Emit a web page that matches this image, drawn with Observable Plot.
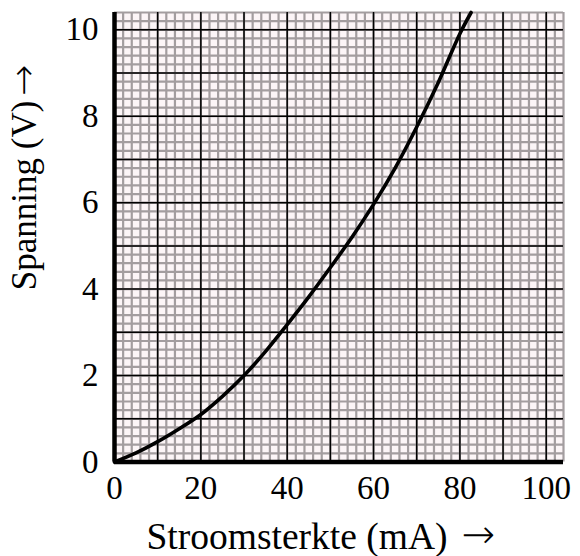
<!DOCTYPE html>
<html>
<head>
<meta charset="utf-8">
<script src="https://cdn.jsdelivr.net/npm/d3@7"></script>
<script src="https://cdn.jsdelivr.net/npm/@observablehq/plot@0.6"></script>
<style>
  html, body { margin: 0; padding: 0; background: #fff; }
  #chart svg { display: block; }
</style>
</head>
<body>
<div id="chart"></div>
<script>
// Data
const current = [0, 5, 10, 15, 20, 25, 30, 35, 40, 45, 50, 55, 60, 65, 70, 75, 80, 82.6];      // mA
const voltage = [0, 0.21, 0.47, 0.77, 1.10, 1.52, 2.0, 2.56, 3.18, 3.82, 4.5, 5.2, 5.96, 6.8, 7.75, 8.78, 9.91, 10.4]; // V
const xTicks = [0, 20, 40, 60, 80, 100];
const yTicks = [0, 2, 4, 6, 8, 10];
const xMajor = [0, 10, 20, 30, 40, 50, 60, 70, 80, 90, 100];
const yMajor = [0, 1, 2, 3, 4, 5, 6, 7, 8, 9, 10];
const xTitle = "Stroomsterkte (mA)";
const yTitle = "Spanning (V)";
const arrow = "→";

const data = current.map((c, i) => ({c, v: voltage[i]}));
const xMinor = d3.range(0, 104.001, 2);
const yMinor = d3.range(0, 10.4001, 0.2).map(d => +d.toFixed(1));

const font = "'Liberation Serif', 'Times New Roman', serif";
const arrowFont = "'DejaVu Sans', sans-serif";

const chart = Plot.plot({
  width: 580,
  height: 556,
  marginLeft: 114,
  marginRight: 17,
  marginTop: 12,
  marginBottom: 94.5,
  style: {fontFamily: font, background: "#fff", color: "#000"},
  x: {domain: [0, 104], label: null},
  y: {domain: [0, 10.4], label: null},
  marks: [
    Plot.frame({fill: "#fcf5f7", stroke: null}),
    Plot.gridX(xMinor, {stroke: "#a39d9f", strokeOpacity: 1, strokeWidth: 2.2}),
    Plot.gridY(yMinor, {stroke: "#a39d9f", strokeOpacity: 1, strokeWidth: 2.2}),
    Plot.gridX(xMajor, {stroke: "#000", strokeOpacity: 1, strokeWidth: 1.5}),
    Plot.gridY(yMajor, {stroke: "#000", strokeOpacity: 1, strokeWidth: 1.5}),
    Plot.ruleX([0], {stroke: "#000", strokeWidth: 4.5}),
    Plot.ruleY([0], {stroke: "#000", strokeWidth: 4.5}),
    Plot.line(data, {x: "c", y: "v", stroke: "#000", strokeWidth: 3.6, curve: "catmull-rom"}),
    Plot.axisX(xTicks, {tickSize: 0, tickPadding: 14, fontSize: 33, label: null}),
    Plot.axisY(yTicks, {tickSize: 0, tickPadding: 16, fontSize: 33, label: null}),
    Plot.text([xTitle], {frameAnchor: "bottom-left", dx: 32, dy: 75, fontSize: 37.5, textAnchor: "start", lineAnchor: "middle"}),
    Plot.text([arrow], {frameAnchor: "bottom-left", dx: 364, dy: 73, fontSize: 40, fontFamily: arrowFont, fontWeight: 200, textAnchor: "middle", lineAnchor: "middle"}),
    Plot.text([yTitle], {frameAnchor: "left", dx: -90, dy: 53, rotate: -90, fontSize: 35, textAnchor: "start", lineAnchor: "middle"}),
    Plot.text([arrow], {frameAnchor: "left", dx: -90, dy: -157, rotate: -90, fontSize: 37, fontFamily: arrowFont, fontWeight: 200, textAnchor: "middle", lineAnchor: "middle"})
  ]
});
document.getElementById("chart").append(chart);
</script>
</body>
</html>
